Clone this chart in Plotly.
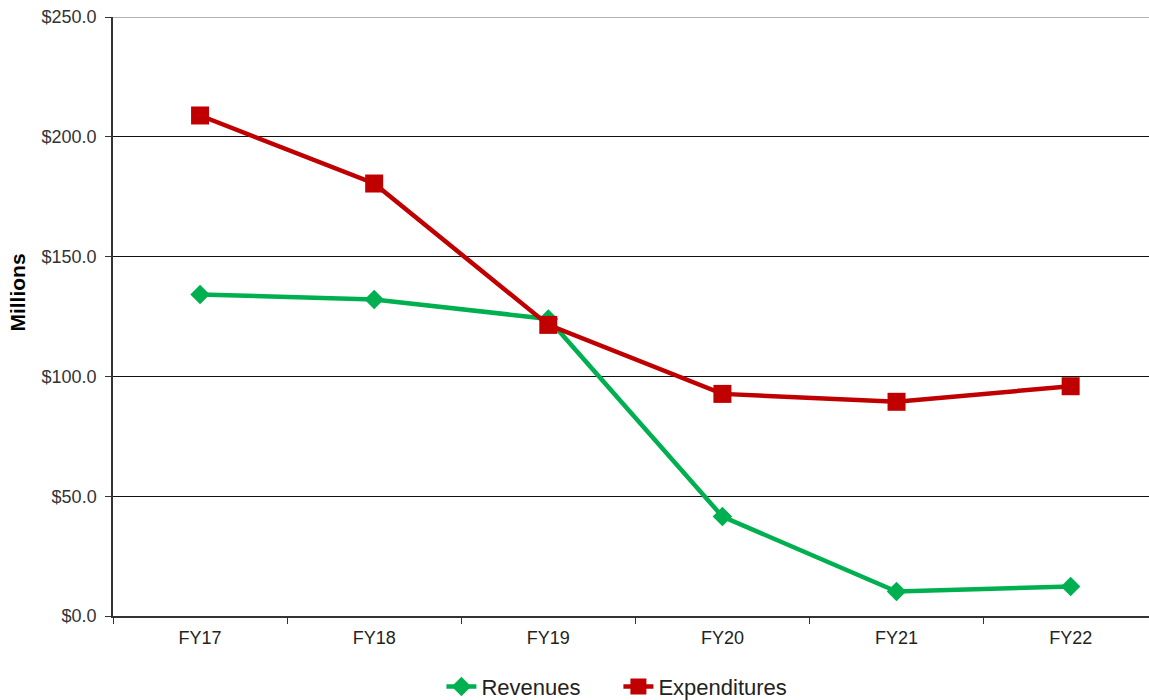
import plotly.graph_objects as go

categories = ["FY17", "FY18", "FY19", "FY20", "FY21", "FY22"]
revenues = [134.2, 132.1, 124.0, 41.5, 10.2, 12.3]
expenditures = [208.9, 180.5, 121.5, 92.7, 89.4, 95.9]
y_ticks = [0, 50, 100, 150, 200, 250]

fig = go.Figure()
fig.add_trace(go.Scatter(
    x=categories, y=revenues, name="Revenues", mode="lines+markers",
    line=dict(color="#00B050", width=4.5),
    marker=dict(symbol="diamond", size=15, color="#00B050"),
))
fig.add_trace(go.Scatter(
    x=categories, y=expenditures, name="Expenditures", mode="lines+markers",
    line=dict(color="#C00000", width=4.5),
    marker=dict(symbol="square", size=18, color="#C00000"),
))

fig.add_shape(type="line", xref="paper", yref="y", x0=0, x1=1, y0=250, y1=250,
              line=dict(color="#999999", width=1.5), layer="above")
fig.add_annotation(text="<b>Millions</b>", xref="paper", yref="paper",
                   x=-0.0917, y=0.54, xanchor="center", yanchor="middle",
                   textangle=-90, showarrow=False,
                   font=dict(size=21, color="#000"))

fig.update_layout(
    width=1149, height=700,
    margin=dict(l=113, r=0, t=17, b=84, autoexpand=False),
    paper_bgcolor="white", plot_bgcolor="white",
    font=dict(family="Liberation Sans, Arial, sans-serif", color="#222"),
    showlegend=True,
    legend=dict(orientation="h", x=0.317, xanchor="left", y=-0.118, yanchor="middle",
                font=dict(size=22, color="#222"), traceorder="normal",
                entrywidth=132, entrywidthmode="pixels"),
    xaxis=dict(
        type="category", range=[-0.5, 5.45], automargin=False,
        showline=True, linecolor="#333", linewidth=1.5,
        ticks="outside", tickson="boundaries", ticklen=6, tickcolor="#333",
        ticklabelstandoff=5,
        tickfont=dict(size=18, color="#222"), showgrid=False,
    ),
    yaxis=dict(
        range=[0, 250], tickvals=y_ticks, tickformat="$.1f", automargin=False,
        showline=True, linecolor="#333", linewidth=1.5,
        ticks="outside", ticklen=6, tickcolor="#333",
        ticklabelstandoff=5,
        tickfont=dict(size=18, color="#333"),
        showgrid=True, gridcolor="#111", gridwidth=1, zeroline=False,
    ),
)

fig.write_html("out.html", config={"displayModeBar": False},
               post_script="document.body.style.margin='0';document.body.style.overflow='hidden';")
